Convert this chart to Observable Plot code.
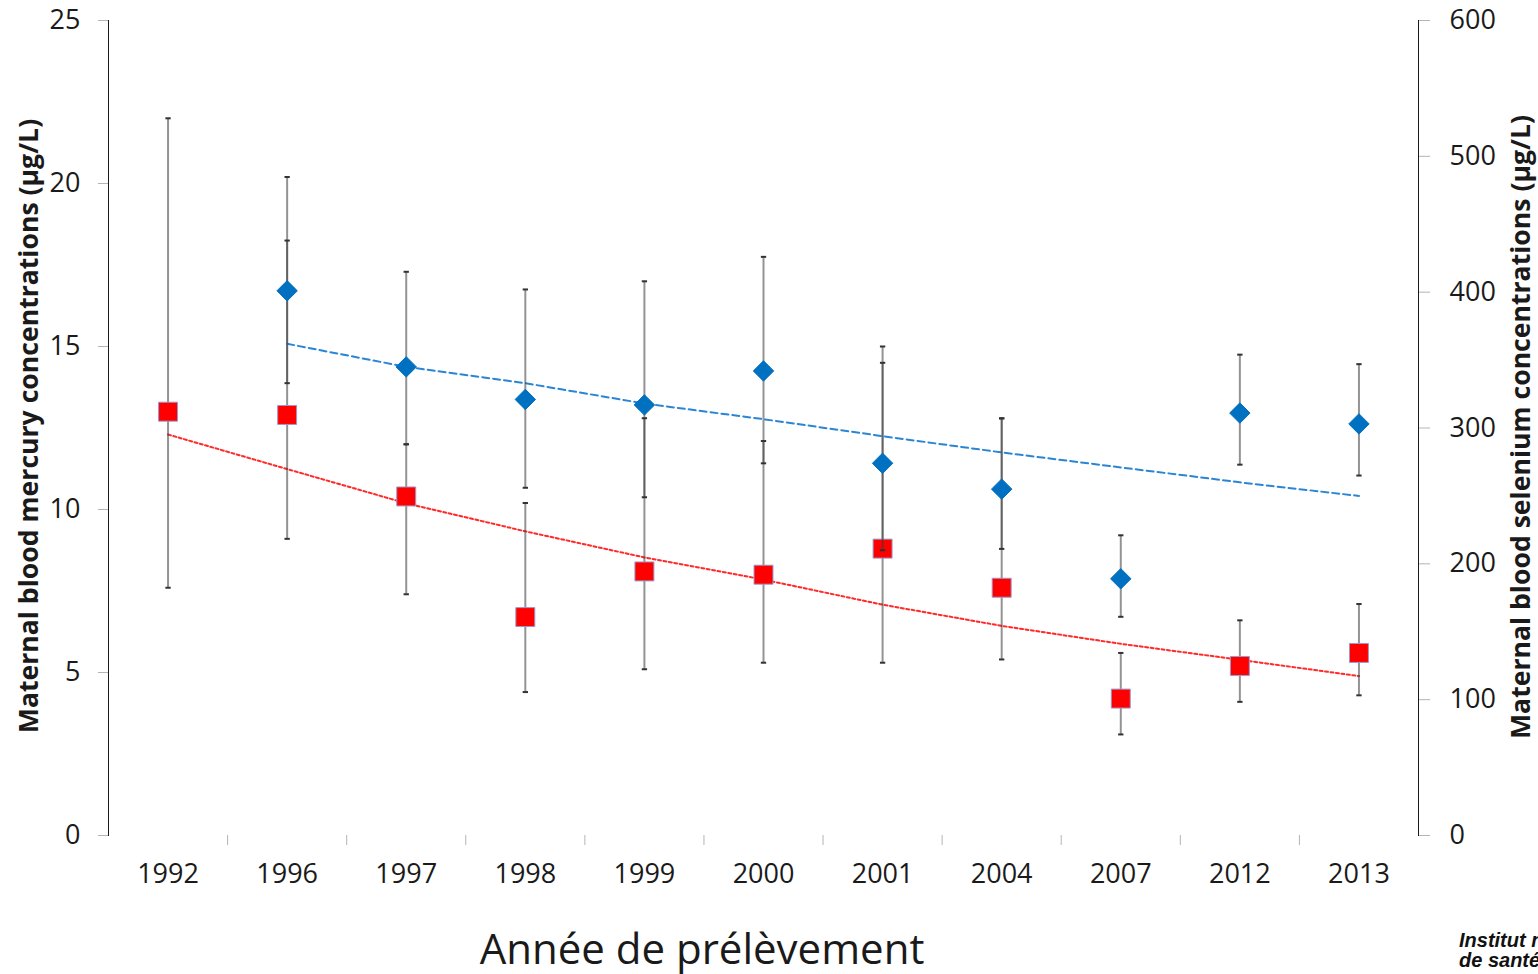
<!DOCTYPE html>
<html><head><meta charset="utf-8">
<script src="https://cdn.jsdelivr.net/npm/d3@7"></script>
<script src="https://cdn.jsdelivr.net/npm/@observablehq/plot@0.6"></script>
<style>
html,body{margin:0;padding:0;background:#fff;overflow:hidden;}
#wrap{position:relative;width:1538px;height:974px;overflow:hidden;font-family:"Open Sans",sans-serif;color:#1a1a1a;}
.layer{position:absolute;left:0;top:0;}
.layer svg{background:transparent !important;}
.layer svg g[aria-label^="y-axis"] line,.layer svg g[aria-label^="y-axis"] path,
.layer svg g[aria-label^="x-axis"] line,.layer svg g[aria-label^="x-axis"] path{stroke:#b4b4b4;}
.layer svg g[aria-label^="y-axis"] text,.layer svg g[aria-label^="x-axis"] text{fill:#1a1a1a;}
.ytitle{position:absolute;white-space:nowrap;font-weight:700;font-size:26.6px;line-height:normal;transform:translate(-50%,-50%) rotate(-90deg);}
#xtitle{position:absolute;left:702px;top:947px;transform:translate(-50%,-50%);font-size:42px;white-space:nowrap;line-height:normal;}
#logo{position:absolute;left:1459px;top:930px;font-family:"Liberation Sans",Arial,sans-serif;font-weight:bold;font-style:italic;font-size:20px;line-height:20px;white-space:nowrap;color:#111;}
</style></head>
<body>
<div id="wrap">
  <div class="layer" id="hg"></div>
  <div class="layer" id="se"></div>
  <div class="ytitle" id="ytl" style="left:28px;top:426px;">Maternal blood mercury concentrations (µg/L)</div>
  <div class="ytitle" id="ytr" style="left:1520px;top:427px;">Maternal blood selenium concentrations (µg/L)</div>
  <div id="xtitle">Année de prélèvement</div>
  <div id="logo">Institut national<br>de santé publique du Québec</div>
</div>
<script>
// ---- data ----
const years = ["1992","1996","1997","1998","1999","2000","2001","2004","2007","2012","2013"];
const mercury      = [13.0, 12.9, 10.4, 6.7, 8.1, 8.0, 8.8, 7.6, 4.2, 5.2, 5.6];
const mercuryLow   = [7.6, 9.1, 7.4, 4.4, 5.1, 5.3, 5.3, 5.4, 3.1, 4.1, 4.3];
const mercuryHigh  = [22.0, 20.2, 12.0, 10.2, 12.8, 12.1, 15.0, 12.8, 5.6, 6.6, 7.1];
const mercuryTrend = [12.3, 11.24, 10.19, 9.33, 8.53, 7.85, 7.08, 6.43, 5.88, 5.39, 4.89];
const selenium      = [null, 401, 345, 321, 317, 342, 274, 255, 189, 311, 303];
const seleniumLow   = [null, 333, 288, 256, 249, 274, 210, 211, 161, 273, 265];
const seleniumHigh  = [null, 438, 415, 402, 408, 426, 348, 307, 221, 354, 347];
const seleniumTrend = [null, 362, 345, 333, 318, 306.5, 294, 282, 271, 260, 250];
const mercuryTicks  = [0, 5, 10, 15, 20, 25];
const seleniumTicks = [0, 100, 200, 300, 400, 500, 600];

// ---- tables built from the arrays ----
const idx = d3.range(years.length);
const boundaries = d3.range(years.length - 1).map(i => i + 0.5);
const hgPts = idx.map(i => ({i, v: mercury[i], lo: mercuryLow[i], hi: mercuryHigh[i], t: mercuryTrend[i]}));
const sePts = idx.filter(i => selenium[i] != null).map(i => ({i, v: selenium[i], lo: seleniumLow[i], hi: seleniumHigh[i], t: seleniumTrend[i]}));
const capsOf = rows => rows.flatMap(r => [{i: r.i, v: r.lo}, {i: r.i, v: r.hi}]);

const hline = {draw(ctx, size) { const w = Math.sqrt(size) / 2; ctx.moveTo(-w, 0); ctx.lineTo(w, 0); }};

const common = {
  width: 1538, height: 900,
  marginLeft: 108, marginRight: 120, marginTop: 20, marginBottom: 65,
  style: {fontFamily: "'Open Sans', sans-serif", fontSize: "27px", background: "transparent", color: "#1a1a1a"}
};
const barStyle = {stroke: "#3a3a3a", strokeOpacity: 0.55, strokeWidth: 2};
const capStyle = {symbol: hline, r: 3, stroke: "#333", strokeWidth: 2};

// Mercury (left axis) layer
const hgPlot = Plot.plot({
  ...common,
  x: {domain: [-0.5, years.length - 0.5], ticks: idx, tickSize: 0, tickPadding: 28, tickFormat: i => years[i], label: null},
  y: {domain: [0, 25], axis: "left", ticks: mercuryTicks, tickSize: 10, tickPadding: 18, line: true, label: null},
  marks: [
    Plot.line(hgPts, {x: "i", y: "t", stroke: "#ff2a2a", strokeWidth: 2, strokeDasharray: "3,2.5"}),
    Plot.ruleX(hgPts, {x: "i", y1: "lo", y2: "hi", ...barStyle}),
    Plot.dot(capsOf(hgPts), {x: "i", y: "v", ...capStyle}),
    Plot.dot(hgPts, {x: "i", y: "v", symbol: "square", r: 10.7, fill: "#ff0000", stroke: "#9a9acc", strokeWidth: 1})
  ]
});

// Selenium (right axis) layer
const sePlot = Plot.plot({
  ...common,
  x: {domain: [-0.5, years.length - 0.5], ticks: boundaries, tickSize: 10, tickFormat: () => "", label: null},
  y: {domain: [0, 600], axis: "right", ticks: seleniumTicks, tickSize: 11, tickPadding: 20, line: true, label: null},
  marks: [
    Plot.line(sePts, {x: "i", y: "t", stroke: "#2a86d4", strokeWidth: 2, strokeDasharray: "7,4"}),
    Plot.ruleX(sePts, {x: "i", y1: "lo", y2: "hi", ...barStyle}),
    Plot.dot(capsOf(sePts), {x: "i", y: "v", ...capStyle}),
    Plot.dot(sePts, {x: "i", y: "v", symbol: "diamond2", r: 9.2, fill: "#0070c0", stroke: "#0070c0", strokeWidth: 1})
  ]
});

document.getElementById("hg").appendChild(hgPlot);
document.getElementById("se").appendChild(sePlot);
</script>
</body></html>
